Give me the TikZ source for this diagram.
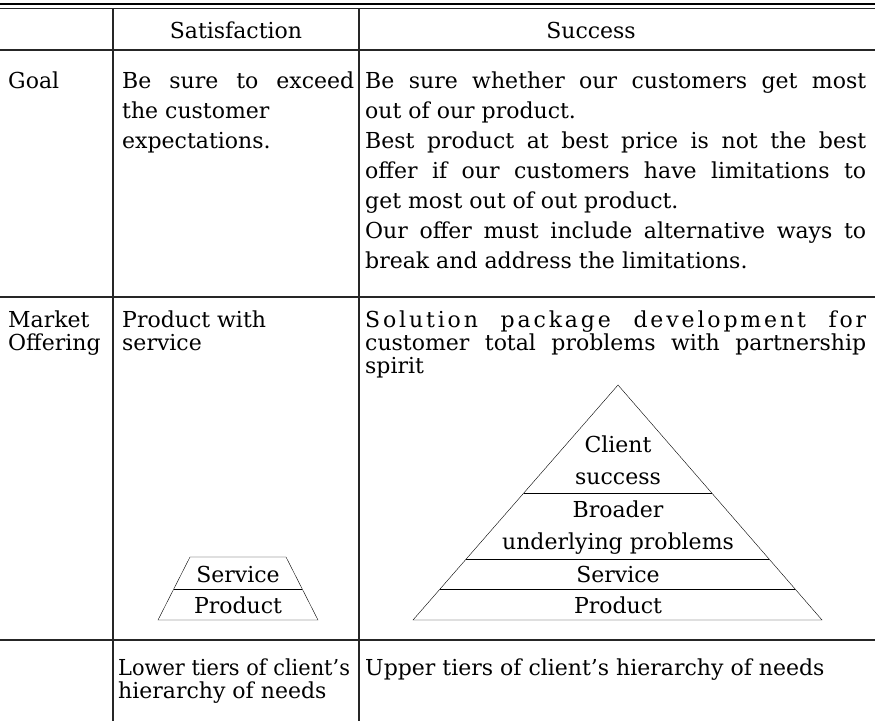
\documentclass[tikz,border=0pt]{standalone}
\usepackage{fontspec}
\setmainfont{DejaVu Serif}
\usetikzlibrary{positioning,calc}

\newcommand{\tabfont}{\fontsize{22}{26}\selectfont}
\newcommand{\jline}[2]{\makebox[#1pt][s]{#2}}

\begin{document}
\begin{tikzpicture}[x=1pt, y=-1pt,
    cell/.style={anchor=base west, inner sep=0pt, font=\tabfont},
    mid/.style={anchor=base, inner sep=0pt, font=\tabfont},
    rule/.style={line width=1.2pt, black!85}]

    % Page size
    \def\xmax{875}
    \def\ymax{721}
    \useasboundingbox (0,0) rectangle (\xmax,\ymax);

    % Column and row positions
    \def\xa{113}
    \def\xb{359}
    \def\yhead{50}
    \def\ygoal{297}
    \def\ymarket{640}
    \def\dy{30}
    \def\dyb{23}

    % Rules of the table
    \draw[line width=1.7pt] (0,4) -- (\xmax,4);
    \draw[rule] (0,8.5) -- (\xmax,8.5);
    \draw[rule] (0,\yhead) -- (\xmax,\yhead);
    \draw[rule] (0,\ygoal) -- (\xmax,\ygoal);
    \draw[rule] (0,\ymarket) -- (\xmax,\ymarket);
    \draw[rule] (\xa,8.5) -- (\xa,\ymax);
    \draw[rule] (\xb,8.5) -- (\xb,\ymax);

    % Header
    \node[mid] (hsat) at (236,38) {Satisfaction};
    \node[mid] (hsuc) at (591,38) {Success};

    % Goal row
    \node[cell] (goal) at (8,88) {Goal};
    \node[cell] (gsat0) at (122,88) {\jline{232}{Be sure to exceed}};
    \foreach \txt [count=\i] in {the customer, expectations.}
        \node[cell] (gsat\i) at (122,88+\dy*\i) {\txt};

    \node[cell] (gsuc0) at (365,88) {\jline{501}{Be sure whether our customers get most}};
    \node[cell] (gsuc1) at (365,88+\dy) {out of our product.};
    \node[cell] (gsuc2) at (365,88+2*\dy) {\jline{501}{Best product at best price is not the best}};
    \node[cell] (gsuc3) at (365,88+3*\dy) {\jline{501}{offer if our customers have limitations to}};
    \node[cell] (gsuc4) at (365,88+4*\dy) {get most out of out product.};
    \node[cell] (gsuc5) at (365,88+5*\dy) {\jline{501}{Our offer must include alternative ways to}};
    \node[cell] (gsuc6) at (365,88+6*\dy) {break and address the limitations.};

    % Market offering row
    \node[cell] (mkt0) at (8,327) {Market};
    \node[cell] (mkt1) at (8,327+\dyb) {Offering};
    \node[cell] (msat0) at (122,327) {Product with};
    \node[cell] (msat1) at (122,327+\dyb) {service};
    \node[cell] (msuc0) at (365,327) {\jline{501}{\addfontfeature{LetterSpace=13}Solution package development for}};
    \node[cell] (msuc1) at (365,327+\dyb) {\jline{501}{customer total problems with partnership}};
    \node[cell] (msuc2) at (365,327+2*\dyb) {spirit};

    % Small pyramid (satisfaction)
    \coordinate (sbl) at (158,620);
    \coordinate (sbr) at (318,620);
    \coordinate (stl) at (190,557);
    \coordinate (str) at (286,557);
    \draw[thin] (sbl) -- (stl) -- (str) -- (sbr) -- cycle;
    \draw[thin] (174,589) -- (302,589);
    \node[mid] (sserv) at (238,582) {Service};
    \node[mid] (sprod) at (238,613) {Product};

    % Big pyramid (success)
    \coordinate (top) at (618,385);
    \coordinate (bl) at (413,620);
    \coordinate (br) at (822,620);
    \draw[thin] (bl) -- (top) -- (br) -- cycle;
    \foreach \y in {493,559,589}
        \draw[thin] ($(top)!{(\y-385)/235}!(bl)$) -- ($(top)!{(\y-385)/235}!(br)$);
    \node[mid] (client) at (618,452) {Client};
    \node[mid] (csucc) at (618,484) {success};
    \node[mid] (broad) at (618,517) {Broader};
    \node[mid] (under) at (618,549) {underlying problems};
    \node[mid] (bserv) at (618,582) {Service};
    \node[mid] (bprod) at (618,613) {Product};

    % Last row
    \node[cell] (low0) at (118,675) {\addfontfeature{FakeStretch=0.95}Lower tiers of client’s};
    \node[cell] (low1) at (118,675+\dyb) {hierarchy of needs};
    \node[cell] (upp) at (365,675) {Upper tiers of client’s hierarchy of needs};

\end{tikzpicture}
\end{document}
